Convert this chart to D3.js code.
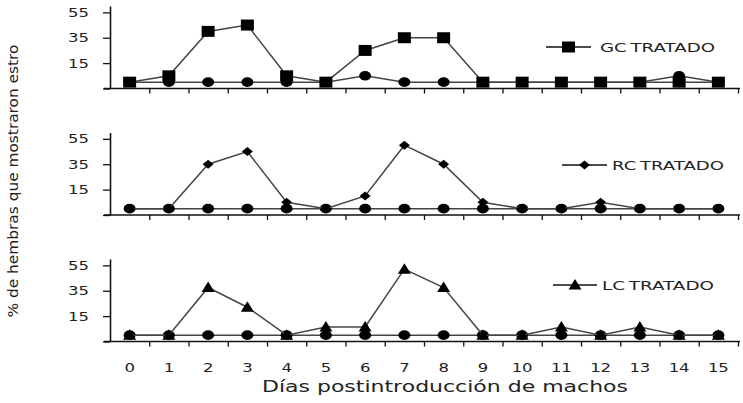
<!DOCTYPE html>
<html>
<head>
<meta charset="utf-8">
<script src="https://cdn.jsdelivr.net/npm/d3@7"></script>
<style>
  html, body { margin: 0; padding: 0; background: #fff; }
  svg { display: block; font-family: "DejaVu Sans", sans-serif; }
</style>
</head>
<body>
<svg id="chart" width="743" height="403"></svg>
<script>
// Days after introducing the males
const days = [0, 1, 2, 3, 4, 5, 6, 7, 8, 9, 10, 11, 12, 13, 14, 15];

// % of females showing oestrus, control group (circles) in each panel
const controlGC = [0, 0, 0, 0, 0, 0, 5, 0, 0, 0, 0, 0, 0, 0, 5, 0];
const controlRC = [0, 0, 0, 0, 0, 0, 0, 0, 0, 0, 0, 0, 0, 0, 0, 0];
const controlLC = [0, 0, 0, 0, 0, 0, 0, 0, 0, 0, 0, 0, 0, 0, 0, 0];

// Treated groups
const treatedGC = [0, 5, 40, 45, 5, 0, 25, 35, 35, 0, 0, 0, 0, 0, 0, 0];
const treatedRC = [0, 0, 35, 45, 5, 0, 10, 50, 35, 5, 0, 0, 5, 0, 0, 0];
const treatedLC = [0, 0, 37.5, 22, 0, 6.5, 6.5, 52, 37.5, 0, 0, 6.5, 0, 6.5, 0, 0];

const legendLabels = ["GC TRATADO", "RC TRATADO", "LC TRATADO"];
const yTicks = [-5, 15, 35, 55];

const panels = [
  { treated: treatedGC, control: controlGC, label: legendLabels[0], marker: "square" },
  { treated: treatedRC, control: controlRC, label: legendLabels[1], marker: "diamond" },
  { treated: treatedLC, control: controlLC, label: legendLabels[2], marker: "triangle" }
];

const svg = d3.select("#chart");
const left = 110, right = 738;
const x = d3.scaleBand().domain(days).range([left, right]);
const xEdge = d3.scaleLinear().domain([-0.5, 15.5]).range([left, right]);
const edges = days.map(d => d + 0.5);

const panelTop = [6, 132.5, 259];
const panelH = 82.5;
const legendPos = [
  { x1: 546, x2: 591, y: 47, tx: 600, w: 115 },
  { x1: 562, x2: 607, y: 165, tx: 612, w: 112 },
  { x1: 553, x2: 597, y: 285, tx: 602, w: 112 }
];

function markerPath(kind) {
  if (kind === "square") return "M-6.5,-5.5H6.5V5.5H-6.5Z";
  if (kind === "diamond") return "M0,-4.5L5.5,0L0,4.5L-5.5,0Z";
  if (kind === "triangle") return "M0,-6L6.5,4.5H-6.5Z";
  return "";
}

panels.forEach((p, i) => {
  const top = panelTop[i];
  const y = d3.scaleLinear().domain([-5, 60]).range([top + panelH, top]);
  const g = svg.append("g");

  // x axis with ticks between the days
  const xa = g.append("g")
    .attr("transform", `translate(0,${y(-5)})`)
    .call(d3.axisBottom(xEdge).tickValues(edges).tickSize(5).tickSizeOuter(0).tickFormat(""));
  xa.select(".domain").attr("d", `M${left - 6},0H${right + 2}`).attr("stroke", "#111").attr("stroke-width", 1.6);
  xa.selectAll(".tick line").attr("stroke", "#111").attr("stroke-width", 1.3);

  // y axis
  const ya = g.append("g")
    .attr("transform", `translate(${left},0)`)
    .call(d3.axisLeft(y).tickValues(yTicks).tickSize(7).tickSizeOuter(0)
      .tickFormat(v => v < 0 ? "" : v));
  ya.select(".domain").attr("stroke", "#111").attr("stroke-width", 1.6);
  ya.selectAll(".tick line").attr("stroke", "#111").attr("stroke-width", 1.3);
  ya.selectAll(".tick text").attr("font-size", 12.5).attr("fill", "#222")
    .attr("font-family", "DejaVu Sans, sans-serif").attr("x", -21)
    .attr("textLength", 21).attr("lengthAdjust", "spacingAndGlyphs");

  const line = d3.line().x((d, k) => x.bandwidth() / 2 + x(days[k])).y(d => y(d));

  // control series
  g.append("path").datum(p.control).attr("d", line)
    .attr("fill", "none").attr("stroke", "#444").attr("stroke-width", 1.5);
  g.selectAll(".ctl").data(p.control).join("ellipse")
    .attr("cx", (d, k) => x(days[k]) + x.bandwidth() / 2)
    .attr("cy", d => y(d))
    .attr("rx", 6).attr("ry", 4.8).attr("fill", "#000");

  // treated series
  g.append("path").datum(p.treated).attr("d", line)
    .attr("fill", "none").attr("stroke", "#444").attr("stroke-width", 1.5);
  g.selectAll(".trt").data(p.treated).join("path")
    .attr("d", markerPath(p.marker))
    .attr("transform", (d, k) => `translate(${x(days[k]) + x.bandwidth() / 2},${y(d)})`)
    .attr("fill", "#000");

  // legend
  const lp = legendPos[i];
  g.append("line").attr("x1", lp.x1).attr("x2", lp.x2).attr("y1", lp.y).attr("y2", lp.y)
    .attr("stroke", "#111").attr("stroke-width", 1.5);
  g.append("path").attr("d", markerPath(p.marker))
    .attr("transform", `translate(${(lp.x1 + lp.x2) / 2},${lp.y})`).attr("fill", "#000");
  g.append("text").attr("x", lp.tx).attr("y", lp.y).attr("dy", "0.36em")
    .attr("font-size", 13).attr("fill", "#222").attr("word-spacing", -1.5)
    .attr("textLength", lp.w).attr("lengthAdjust", "spacingAndGlyphs")
    .text(p.label);

  // day labels under the bottom panel
  if (i === panels.length - 1) {
    g.selectAll(".day").data(days).join("text")
      .attr("x", d => x(d) + x.bandwidth() / 2)
      .attr("y", 372)
      .attr("text-anchor", "middle").attr("font-size", 12).attr("fill", "#222")
      .attr("textLength", d => String(d).length * 10.5).attr("lengthAdjust", "spacingAndGlyphs")
      .text(d => d);
  }
});

// axis titles
svg.append("text").attr("x", 445).attr("y", 392)
  .attr("text-anchor", "middle").attr("font-size", 15).attr("fill", "#222")
  .attr("textLength", 366).attr("lengthAdjust", "spacingAndGlyphs")
  .text("Días postintroducción de machos");

svg.append("text")
  .attr("transform", "translate(13,181) rotate(-90)")
  .attr("dy", "0.36em")
  .attr("text-anchor", "middle").attr("font-size", 14).attr("fill", "#222")
  .attr("textLength", 273).attr("lengthAdjust", "spacingAndGlyphs")
  .text("% de hembras que mostraron estro");
</script>
</body>
</html>
